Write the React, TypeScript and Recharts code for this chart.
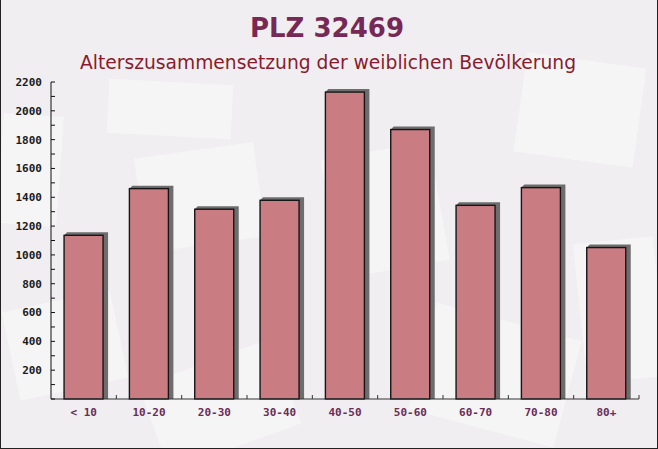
import React from 'react';
import { BarChart, Bar, XAxis, YAxis } from 'recharts';

const categories = ['< 10', '10-20', '20-30', '30-40', '40-50', '50-60', '60-70', '70-80', '80+'];
const femaleValues = [1136, 1460, 1317, 1379, 2130, 1870, 1344, 1467, 1051];
const yTicks = [0, 100, 200, 300, 400, 500, 600, 700, 800, 900, 1000, 1100, 1200, 1300, 1400, 1500, 1600, 1700, 1800, 1900, 2000, 2100, 2200];
const titleText = 'PLZ 32469';
const subtitleText = 'Alterszusammensetzung der weiblichen Bevölkerung';

const W = 658;
const H = 449;
const MARGIN = { top: 82, right: 19, bottom: 20, left: 0 };
const Y_AXIS_W = 51;
const X_AXIS_H = 30;

const data = categories.map((c, i) => ({ name: c, value: femaleValues[i] }));
const bandWidth = (W - MARGIN.left - MARGIN.right - Y_AXIS_W) / categories.length;

const BarShape = (props: any) => {
  const { x, y, width, height } = props;
  if (height <= 0) return null;
  const dx = 4;
  const dy = 3;
  const pts = [
    [x + dx - 1, y - dy],
    [x + width + dx + 1, y - dy],
    [x + width + dx + 1, y + height],
    [x + width, y + height],
    [x + width, y],
    [x, y],
  ]
    .map((p) => p.join(','))
    .join(' ');
  return (
    <g>
      <polygon points={pts} fill="#5e5e5e" fillOpacity={0.9} />
      <rect x={x} y={y} width={width} height={height} fill="#c6767c" fillOpacity={0.95} stroke="#161616" strokeWidth={1.4} />
    </g>
  );
};

const XTick = (props: any) => {
  const { x, y, payload } = props;
  const bx = x + bandWidth / 2;
  return (
    <g>
      <line x1={bx} y1={y} x2={bx} y2={y - 4} stroke="#333" strokeWidth={1} />
      <text
        x={x}
        y={y + 17}
        textAnchor="middle"
        fontFamily="'DejaVu Sans Mono', monospace"
        fontWeight="bold"
        fontSize={11}
        fill="#6b2c57"
      >
        {payload.value}
      </text>
    </g>
  );
};

const envelopes = [
  { l: 108, t: 82, w: 124, h: 54, r: 3 },
  { l: 140, t: 150, w: 120, h: 95, r: -8 },
  { l: 0, t: 115, w: 60, h: 110, r: 4 },
  { l: 330, t: 150, w: 110, h: 120, r: -10 },
  { l: 520, t: 60, w: 120, h: 100, r: 8 },
  { l: 150, t: 360, w: 140, h: 90, r: -20 },
  { l: 420, t: 320, w: 150, h: 110, r: 15 },
  { l: 10, t: 300, w: 110, h: 90, r: -12 },
  { l: 580, t: 240, w: 80, h: 140, r: -6 },
];

export default function App() {
  return (
    <div style={{ position: 'absolute', left: 0, top: 0, width: W, height: H, overflow: 'hidden', background: '#f0eef1' }}>
      {envelopes.map((e, i) => (
        <div
          key={i}
          style={{
            position: 'absolute',
            left: e.l,
            top: e.t,
            width: e.w,
            height: e.h,
            background: 'rgba(255,255,255,0.4)',
            transform: `rotate(${e.r}deg)`,
          }}
        />
      ))}
      <div style={{ position: 'absolute', left: 0, top: 0 }}>
        <BarChart width={W} height={H} data={data} margin={MARGIN} barCategoryGap="20%">
          <XAxis
            dataKey="name"
            height={X_AXIS_H}
            tickLine={false}
            tickSize={0}
            tickMargin={0}
            interval={0}
            axisLine={{ stroke: '#333', strokeWidth: 1 }}
            tick={<XTick />}
          />
          <YAxis
            width={Y_AXIS_W}
            domain={[0, 2200]}
            ticks={yTicks}
            interval={0}
            tickSize={-4}
            tickMargin={13}
            tickLine={{ stroke: '#111', strokeWidth: 1 }}
            axisLine={{ stroke: '#111', strokeWidth: 1 }}
            tickFormatter={(v: number) => (v > 0 && v % 200 === 0 ? String(v) : '')}
            tick={{ fontFamily: "'DejaVu Sans Mono', monospace", fontWeight: 'bold', fontSize: 11, fill: '#1a1a1a' }}
          />
          <Bar dataKey="value" isAnimationActive={false} shape={<BarShape />} />
        </BarChart>
      </div>
      <svg width={W} height={H} style={{ position: 'absolute', left: 0, top: 0, pointerEvents: 'none' }}>
        <text x={327} y={37} textAnchor="middle" fontFamily="'DejaVu Sans', sans-serif" fontWeight="bold" fontSize={26} fill="#772956">
          {titleText}
        </text>
        <text x={328} y={69} textAnchor="middle" fontFamily="'DejaVu Sans', sans-serif" fontSize={18.7} fill="#8a1b2d">
          {subtitleText}
        </text>
      </svg>
      <div
        style={{
          position: 'absolute',
          left: 0,
          top: 0,
          width: W,
          height: H,
          boxSizing: 'border-box',
          borderLeft: '1px solid #222',
          borderRight: '1px solid #222',
          borderBottom: '1px solid #222',
          pointerEvents: 'none',
        }}
      />
    </div>
  );
}
